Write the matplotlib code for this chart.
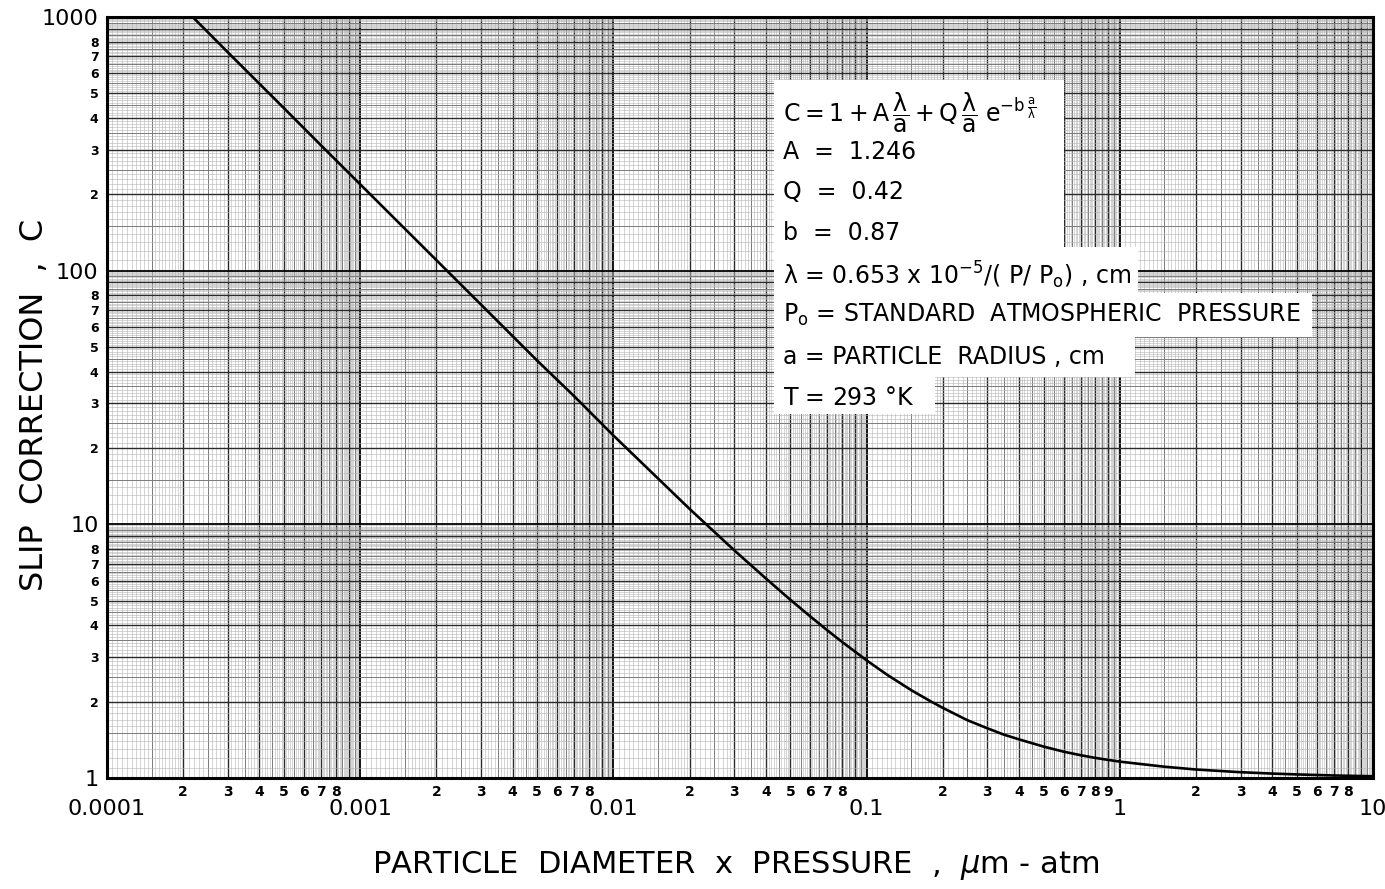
import numpy as np
import matplotlib.pyplot as plt
from matplotlib.patches import Rectangle

plt.rcParams["font.family"] = ["DejaVu Sans"]
plt.rcParams["mathtext.fontset"] = "dejavusans"
plt.rcParams["mathtext.default"] = "regular"

# curve: particle diameter x pressure (um-atm) vs slip correction C
diameter = [0.0002, 0.0003, 0.0005, 0.0007, 0.001, 0.002, 0.003, 0.005, 0.007,
            0.01, 0.02, 0.03, 0.04, 0.05, 0.06, 0.07, 0.08, 0.1, 0.12, 0.15,
            0.18, 0.2, 0.25, 0.3, 0.35, 0.4, 0.5, 0.6, 0.7, 0.8,
            1.0, 1.5, 2.0, 3.0, 4.0, 5.0, 7.0, 10.0]
slip = [1090, 726, 437, 312, 219, 110, 73.5, 44.2, 32.0,
        22.4, 11.5, 7.9, 6.12, 5.04, 4.33, 3.82, 3.44, 2.91, 2.56, 2.22,
        2.00, 1.89, 1.69, 1.57, 1.48, 1.42, 1.33, 1.27, 1.23, 1.20,
        1.16, 1.108, 1.08, 1.054, 1.041, 1.033, 1.023, 1.016]

x_major = [1e-4, 1e-3, 1e-2, 1e-1, 1, 10]
x_major_labels = ["0.0001", "0.001", "0.01", "0.1", "1", "10"]
y_major = [1, 10, 100, 1000]
y_major_labels = ["1", "10", "100", "1000"]

legend_lines = [
    r"$C = 1 + A\,\dfrac{\lambda}{a} + Q\,\dfrac{\lambda}{a}\;e^{-b\,\frac{a}{\lambda}}$",
    "A  =  1.246",
    "Q  =  0.42",
    "b  =  0.87",
    r"$\lambda$ = 0.653 x 10$^{-5}$/( P/ P$_{o}$) , cm",
    r"P$_{o}$ = STANDARD  ATMOSPHERIC  PRESSURE",
    "a = PARTICLE  RADIUS , cm",
    r"T = 293 $\degree$K",
]


def paper_lines(lo, hi, first_step):
    """graph paper grid positions for decades 10**lo .. 10**hi"""
    fine, half, ints, decs = [], [], [], []
    for e in range(lo, hi):
        d = 10.0 ** e
        decs.append(d)
        for k in range(2, 10):
            ints.append(k * d)
        for k in range(1, 10):
            half.append((k + 0.5) * d)
        for m in np.arange(1 + first_step, 2.0, first_step):
            if abs(m * 2 - round(m * 2)) > 1e-6:
                fine.append(m * d)
        for m in np.arange(2.1, 10.0, 0.1):
            if abs(m * 2 - round(m * 2)) > 1e-6:
                fine.append(m * d)
    decs.append(10.0 ** hi)
    return fine, half, ints, decs


fig = plt.figure(figsize=(13.85, 8.89), dpi=100)
ax = fig.add_axes([107 / 1385, 1 - 778 / 889, 1266 / 1385, 761 / 889])
ax.set_xscale("log")
ax.set_yscale("log")
ax.set_xlim(1e-4, 10)
ax.set_ylim(1, 1000)

styles = [("#b4b4b4", 0.4), ("#7a7a7a", 0.7), ("#2a2a2a", 1.0), ("black", 1.3)]
for pos, (col, lw) in zip(paper_lines(-4, 1, 0.05), styles):
    ax.vlines(pos, 1, 1000, colors=col, linewidth=lw, zorder=1)
for pos, (col, lw) in zip(paper_lines(0, 3, 0.1), styles):
    ax.hlines(pos, 1e-4, 10, colors=col, linewidth=lw, zorder=1)

ax.plot(diameter, slip, color="black", linewidth=1.9, zorder=3)

for s in ax.spines.values():
    s.set_linewidth(2.2)

# x ticks
ax.set_xticks(x_major, x_major_labels)
x_minor, x_minor_labels = [], []
for d in x_major[:-1]:
    top = 10 if d == 0.1 else 9
    for k in range(2, top):
        x_minor.append(k * d)
        x_minor_labels.append(str(k))
ax.set_xticks(x_minor, x_minor_labels, minor=True)

# y ticks
ax.set_yticks(y_major, y_major_labels)
y_minor, y_minor_labels = [], []
for d in y_major[:-1]:
    for k in range(2, 9):
        y_minor.append(k * d)
        y_minor_labels.append(str(k))
ax.set_yticks(y_minor, y_minor_labels, minor=True)

ax.tick_params(axis="x", which="major", length=0, pad=15, labelsize=16)
ax.tick_params(axis="x", which="minor", length=0, pad=5, labelsize=10)
ax.tick_params(axis="y", which="major", length=0, pad=6, labelsize=16)
ax.tick_params(axis="y", which="minor", length=0, pad=6, labelsize=9)
for lbl in ax.get_xticklabels(minor=True) + ax.get_yticklabels(minor=True):
    lbl.set_fontweight("bold")

# white panel behind the equation block
W, H = 1385.0, 889.0
panels = [(774, 80, 1064, 247), (774, 247, 1138, 293), (774, 293, 1312, 337),
          (774, 337, 1135, 377), (774, 377, 935, 414)]
for x0, y0, x1, y1 in panels:
    fig.patches.append(Rectangle((x0 / W, 1 - y1 / H), (x1 - x0) / W, (y1 - y0) / H,
                                 transform=fig.transFigure, facecolor="white",
                                 edgecolor="none", zorder=2))

line_y = [113, 152, 192, 233, 275, 315, 357, 398]
for txt, yy in zip(legend_lines, line_y):
    fig.text(783 / W, 1 - yy / H, txt, fontsize=17, va="center", ha="left", zorder=4)

fig.text(736 / W, 1 - 866 / H, r"PARTICLE  DIAMETER  x  PRESSURE  ,  $\mathit{\mu}$m - atm",
         fontsize=22, ha="center", va="center")
fig.text(35 / W, 1 - 405 / H, "SLIP  CORRECTION  ,  C", fontsize=23,
         rotation=90, ha="center", va="center")

fig.savefig("out.png", dpi=100)
